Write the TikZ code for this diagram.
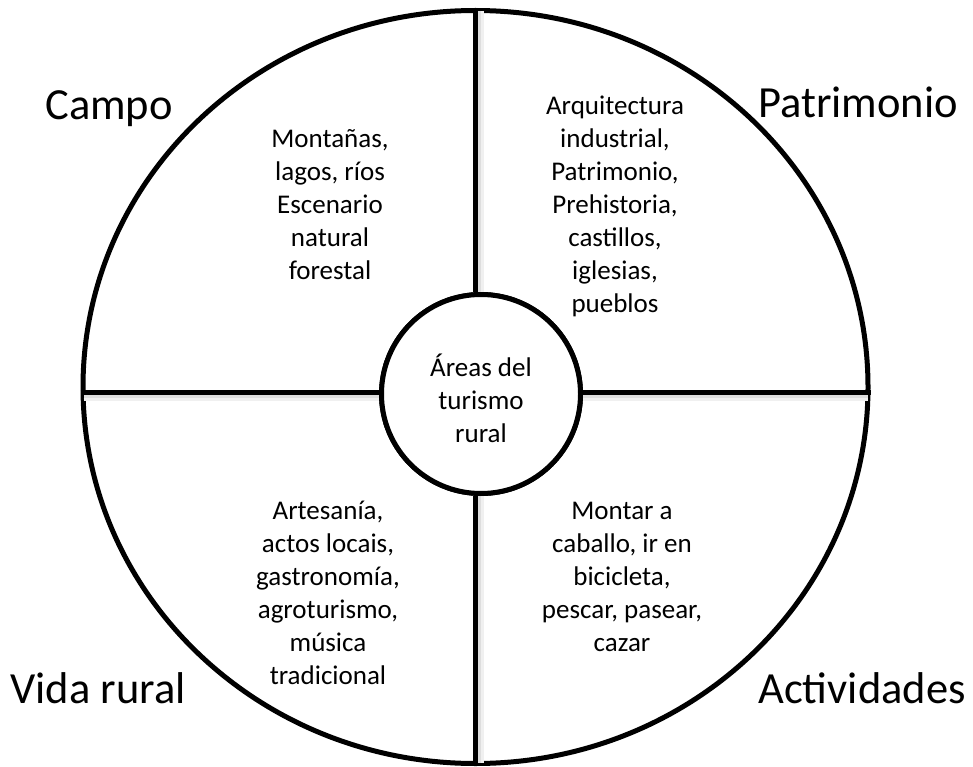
\documentclass[tikz,border=0pt]{standalone}
\usepackage{fontspec}
\setmainfont{Carlito}
\usetikzlibrary{shapes.geometric}
\tikzset{
  ring/.style={draw=black, line width=5pt, inner sep=0pt},
  divider/.style={draw=black, line width=5pt},
  shadowline/.style={draw=black!13, line width=4pt},
  shadowfaint/.style={draw=black!6, line width=3pt},
  areatext/.style={align=center, inner sep=0pt, font=\fontsize{27}{33}\selectfont},
  titletext/.style={anchor=base, inner sep=0pt, font=\fontsize{44.5}{54}\selectfont},
}
\begin{document}
\begin{tikzpicture}[x=1pt,y=-1pt]
\useasboundingbox (0,0) rectangle (973,767);
\node[ring, ellipse, minimum width=785pt, minimum height=753pt] (outer) at (475.5,387) {};
\coordinate (hc) at (475,392);
\node[ring, circle, minimum size=199pt] (inner) at (481,394) {};
% soft shadows
\draw[shadowfaint] ([shift={(3,7)}]outer.west |- hc) -- ([shift={(0,7)}]inner.west |- hc);
\draw[shadowfaint] ([shift={(0,7)}]inner.east |- hc) -- ([shift={(-3,7)}]outer.east |- hc);
\draw[shadowfaint] ([shift={(7,3)}]outer.north -| hc) -- ([shift={(7,0)}]inner.north -| hc);
\draw[shadowfaint] ([shift={(7,0)}]inner.south -| hc) -- ([shift={(7,-3)}]outer.south -| hc);
\draw[shadowline] ([shift={(3,4)}]outer.west |- hc) -- ([shift={(0,4)}]inner.west |- hc);
\draw[shadowline] ([shift={(0,4)}]inner.east |- hc) -- ([shift={(-3,4)}]outer.east |- hc);
\draw[shadowline] ([shift={(4,3)}]outer.north -| hc) -- ([shift={(4,0)}]inner.north -| hc);
\draw[shadowline] ([shift={(4,0)}]inner.south -| hc) -- ([shift={(4,-3)}]outer.south -| hc);
% dividers
\draw[divider] (outer.west |- hc) -- (inner.west |- hc);
\draw[divider] (inner.east |- hc) -- (outer.east |- hc);
\draw[divider] (outer.north -| hc) -- (inner.north -| hc);
\draw[divider] (inner.south -| hc) -- (outer.south -| hc);
\node[ring, circle, minimum size=199pt, fill=white] (innerb) at (481,394) {};
% texts
\node[areatext] (ctext) at (481,398) {Áreas del\\turismo\\rural};
\node[areatext] (tl) at (330,205) {Montañas,\\lagos, ríos\\Escenario\\natural\\forestal};
\node[areatext] (tr) at (615,206) {Arquitectura\\industrial,\\Patrimonio,\\Prehistoria,\\castillos,\\iglesias,\\pueblos};
\node[areatext] (bl) at (328,593) {Artesanía,\\actos locais,\\gastronomía,\\agroturismo,\\música\\tradicional};
\node[areatext] (br) at (622,577) {Montar a\\caballo, ir en\\bicicleta,\\pescar, pasear,\\cazar};
\node[titletext] (campo) at (109,120) {Campo};
\node[titletext] (patr) at (858,118) {Patrimonio};
\node[titletext] (vida) at (98,703) {Vida rural};
\node[titletext] (act) at (862,703) {Actividades};
\end{tikzpicture}
\end{document}
